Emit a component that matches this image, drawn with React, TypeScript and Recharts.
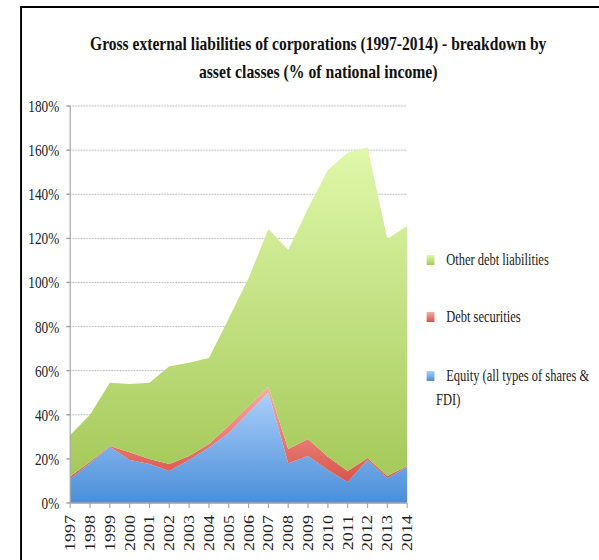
import { AreaChart, Area, XAxis, YAxis, CartesianGrid, Legend } from 'recharts';

const years = ['1997', '1998', '1999', '2000', '2001', '2002', '2003', '2004', '2005', '2006', '2007', '2008', '2009', '2010', '2011', '2012', '2013', '2014'];
const equity = [11, 18, 25.5, 19.5, 17.7, 14.5, 19.5, 25, 31.7, 41, 50, 18, 21.3, 15, 9.5, 19.5, 11.3, 16.3];
const debtSecurities = [1, 0.7, 0.3, 3.5, 2.3, 3.2, 1.8, 1.7, 3.3, 3, 2.6, 6.5, 7.7, 6, 5, 0.9, 0.9, 0.5];
const otherDebt = [18.8, 21.3, 28.7, 31, 34.5, 44.3, 42.3, 39, 48.6, 58, 71.6, 90.2, 104.5, 130, 144.3, 140.9, 107.5, 108.8];
const yTicks = [0, 20, 40, 60, 80, 100, 120, 140, 160, 180];

const titleLines = ['Gross external liabilities of corporations (1997-2014) - breakdown by', 'asset classes (% of national income)'];

// the reference looks squeezed sideways, so everything is drawn wider and scaled down
const SX = 0.78;
const W = 768;
const H = 560;
const FONT = 'Liberation Serif, Times New Roman, serif';

const series = [
  { key: 'equity', name: 'Equity (all types of shares & FDI)', lines: ['Equity (all types of shares &', 'FDI)'], top: '#abcffb', bottom: '#4a8ed8' },
  { key: 'debt', name: 'Debt securities', lines: ['Debt securities'], top: '#f6aca6', bottom: '#d9544a' },
  { key: 'other', name: 'Other debt liabilities', lines: ['Other debt liabilities'], top: '#e0f8aa', bottom: '#a5c95a' },
];

const data = years.map((year, i) => ({
  year,
  equity: equity[i],
  debt: debtSecurities[i],
  other: otherDebt[i],
}));

const YearTick = ({ x, y, payload }: any) => (
  <text
    transform={`translate(${x},${y}) rotate(-90)`}
    textAnchor="end"
    dy="0.35em"
    fontSize={18}
    fontFamily={FONT}
    fill="#222"
  >
    {payload.value}
  </text>
);

const LegendBox = () => {
  const tops = [364, 305, 248];
  return (
    <div style={{ position: 'relative', width: 215, height: 200, fontFamily: FONT, fontSize: 16, color: '#222' }}>
      {series.map((s, i) => (
        <div key={s.key} style={{ position: 'absolute', left: 0, top: tops[i] - 248, lineHeight: '24px', whiteSpace: 'nowrap' }}>
          <span
            style={{
              position: 'absolute',
              left: 0,
              top: 7,
              width: 10,
              height: 10,
              background: `linear-gradient(${s.top}, ${s.bottom})`,
            }}
          />
          {s.lines.map((l, j) => (
            <div key={j} style={{ paddingLeft: j === 0 ? 25 : 12 }}>
              {l}
            </div>
          ))}
        </div>
      ))}
    </div>
  );
};

export default function App() {
  return (
    <div style={{ position: 'absolute', left: 0, top: 0, width: 599, height: H, overflow: 'hidden', background: '#fff' }}>
      <div style={{ position: 'absolute', left: 0, top: 0, width: W, height: H, transform: `scaleX(${SX})`, transformOrigin: '0 0' }}>
        <svg width={W} height={H} style={{ position: 'absolute', left: 0, top: 0 }}>
          <line x1={27} y1={7} x2={W} y2={7} stroke="#000" strokeWidth={2} />
          <line x1={27} y1={6} x2={27} y2={H} stroke="#000" strokeWidth={2.5} />
          {titleLines.map((t, i) => (
            <text
              key={i}
              x={408}
              y={50 + i * 28}
              textAnchor="middle"
              fontSize={18}
              fontWeight={600}
              fontFamily={FONT}
              fill="#111"
              textLength={i === 0 ? 585 : 306}
              lengthAdjust="spacingAndGlyphs"
            >
              {t}
            </text>
          ))}
        </svg>
        <div style={{ position: 'absolute', left: 0, top: 0 }}>
          <AreaChart width={W} height={H} data={data} margin={{ top: 106, right: 246, left: 10, bottom: 0 }}>
            <defs>
              {series.map((s) => (
                <linearGradient key={s.key} id={`grad-${s.key}`} x1="0" y1="0" x2="0" y2="1">
                  <stop offset="0%" stopColor={s.top} />
                  <stop offset="100%" stopColor={s.bottom} />
                </linearGradient>
              ))}
            </defs>
            <CartesianGrid vertical={false} stroke="#9a9a9a" strokeDasharray="1 1" />
            <XAxis
              dataKey="year"
              stroke="#a6a6a6"
              strokeWidth={1.5}
              tickSize={5}
              tickMargin={7}
              interval={0}
              height={57}
              tick={<YearTick />}
            />
            <YAxis
              domain={[0, 180]}
              ticks={yTicks}
              width={80}
              stroke="#a6a6a6"
              strokeWidth={1.5}
              tickSize={5}
              tickMargin={9}
              tickFormatter={(v: number) => `${v}%`}
              tick={{ fill: '#222', fontSize: 17, fontFamily: FONT }}
            />
            {series.map((s) => (
              <Area
                key={s.key}
                type="linear"
                dataKey={s.key}
                name={s.name}
                stackId="1"
                stroke="none"
                fill={`url(#grad-${s.key})`}
                fillOpacity={1}
                isAnimationActive={false}
              />
            ))}
            <Legend
              layout="vertical"
              align="center"
              verticalAlign="middle"
              content={<LegendBox />}
              wrapperStyle={{ left: 547, top: 248, width: 215 }}
            />
          </AreaChart>
        </div>
      </div>
    </div>
  );
}
